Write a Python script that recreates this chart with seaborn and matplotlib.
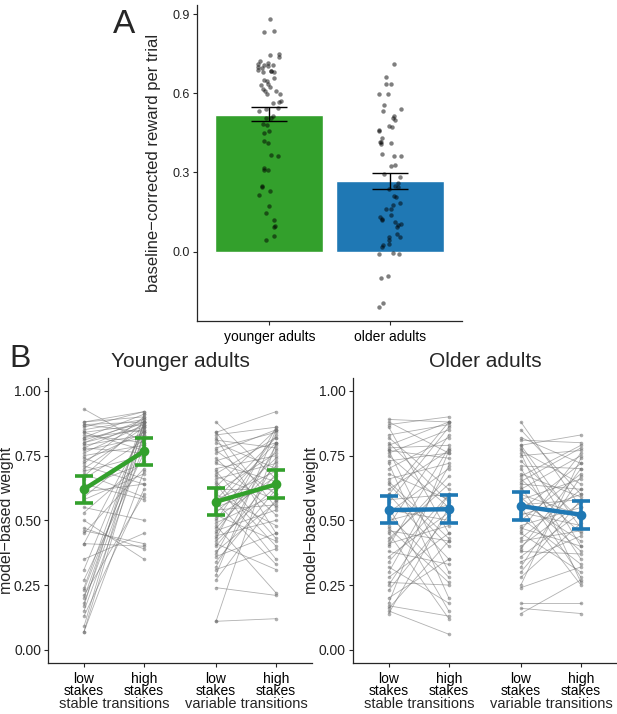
import numpy as np
import pandas as pd
import matplotlib
matplotlib.use("Agg")
import matplotlib.pyplot as plt
import seaborn as sns
from matplotlib.transforms import blended_transform_factory

# ---------------- data ----------------
groups = ["younger adults", "older adults"]
bar_means = [0.520, 0.267]
bar_lo = [0.495, 0.239]
bar_hi = [0.549, 0.297]

younger_reward = [0.881, 0.837, 0.833, 0.747, 0.749, 0.738, 0.724, 0.696, 0.701, 0.705,
                  0.711, 0.715, 0.709, 0.706, 0.681, 0.684, 0.690, 0.686, 0.681, 0.649,
                  0.652, 0.659, 0.634, 0.631, 0.624, 0.608, 0.611, 0.615, 0.596, 0.598,
                  0.571, 0.564, 0.568, 0.546, 0.539, 0.533, 0.514, 0.508, 0.508, 0.485,
                  0.480, 0.458, 0.451, 0.420, 0.410, 0.363, 0.367, 0.309, 0.317, 0.310,
                  0.248, 0.246, 0.228, 0.216, 0.171, 0.148, 0.118, 0.096, 0.093, 0.059,
                  0.045]
older_reward = [0.711, 0.661, 0.637, 0.634, 0.596, 0.596, 0.556, 0.539, 0.535, 0.514,
                0.505, 0.498, 0.478, 0.473, 0.460, 0.458, 0.430, 0.414, 0.414, 0.407,
                0.410, 0.370, 0.363, 0.361, 0.323, 0.327, 0.294, 0.282, 0.259, 0.250,
                0.238, 0.244, 0.206, 0.212, 0.184, 0.175, 0.162, 0.160, 0.124, 0.118,
                0.112, 0.093, 0.106, 0.099, 0.137, 0.131, 0.055, 0.055, 0.065, 0.045,
                0.030, 0.024, 0.018, -0.010, -0.010, -0.005, -0.102, -0.093, -0.209, -0.194]

# Panel B: per-subject model-based weights (low stakes -> high stakes)
ys_low = [0.93, 0.88, 0.87, 0.87, 0.86, 0.85, 0.84, 0.83, 0.82, 0.82, 0.81, 0.80, 0.80, 0.79,
          0.78, 0.78, 0.77, 0.76, 0.75, 0.74, 0.73, 0.72, 0.71, 0.70, 0.69, 0.68, 0.67, 0.66,
          0.64, 0.63, 0.61, 0.59, 0.58, 0.55, 0.53, 0.50, 0.47, 0.46, 0.45, 0.41, 0.41, 0.35,
          0.31, 0.27, 0.24, 0.23, 0.21, 0.20, 0.18, 0.17, 0.15, 0.13, 0.09, 0.07, 0.07, 0.88, 0.84]
ys_high = [0.80, 0.90, 0.84, 0.88, 0.92, 0.89, 0.87, 0.80, 0.91, 0.85, 0.88, 0.86, 0.89, 0.83,
           0.76, 0.88, 0.82, 0.87, 0.79, 0.66, 0.84, 0.90, 0.64, 0.86, 0.75, 0.59, 0.88, 0.81,
           0.58, 0.72, 0.64, 0.78, 0.68, 0.50, 0.73, 0.35, 0.39, 0.41, 0.70, 0.40, 0.85, 0.45,
           0.87, 0.76, 0.88, 0.83, 0.60, 0.86, 0.82, 0.91, 0.79, 0.62, 0.88, 0.84, 0.69, 0.92, 0.77]
yv_low = [0.88, 0.84, 0.84, 0.83, 0.82, 0.81, 0.80, 0.78, 0.77, 0.76, 0.74, 0.73, 0.72, 0.70,
          0.69, 0.68, 0.67, 0.66, 0.65, 0.63, 0.62, 0.61, 0.60, 0.58, 0.57, 0.56, 0.55, 0.54,
          0.53, 0.52, 0.51, 0.50, 0.49, 0.48, 0.47, 0.46, 0.45, 0.44, 0.43, 0.42, 0.41, 0.40,
          0.38, 0.37, 0.36, 0.34, 0.32, 0.31, 0.29, 0.27, 0.24, 0.11, 0.11, 0.58, 0.64]
yv_high = [0.66, 0.92, 0.55, 0.86, 0.45, 0.78, 0.70, 0.84, 0.60, 0.85, 0.52, 0.80, 0.65, 0.75,
           0.43, 0.82, 0.58, 0.72, 0.40, 0.85, 0.62, 0.76, 0.48, 0.69, 0.33, 0.80, 0.64, 0.56,
           0.74, 0.42, 0.67, 0.83, 0.60, 0.22, 0.71, 0.54, 0.77, 0.50, 0.86, 0.63, 0.31, 0.68,
           0.57, 0.79, 0.45, 0.62, 0.73, 0.39, 0.85, 0.58, 0.21, 0.12, 0.80, 0.82, 0.35]
os_low = [0.89, 0.88, 0.87, 0.86, 0.83, 0.82, 0.79, 0.78, 0.77, 0.77, 0.76, 0.75, 0.73, 0.72,
          0.70, 0.68, 0.66, 0.64, 0.62, 0.60, 0.58, 0.57, 0.55, 0.54, 0.53, 0.52, 0.50, 0.48,
          0.46, 0.45, 0.43, 0.41, 0.40, 0.38, 0.36, 0.34, 0.32, 0.30, 0.28, 0.26, 0.25, 0.23,
          0.20, 0.18, 0.17, 0.16, 0.15, 0.14, 0.80, 0.60, 0.47, 0.65, 0.42]
os_high = [0.88, 0.76, 0.90, 0.45, 0.87, 0.62, 0.88, 0.79, 0.30, 0.74, 0.85, 0.55, 0.76, 0.20,
           0.82, 0.58, 0.72, 0.40, 0.77, 0.35, 0.60, 0.86, 0.15, 0.50, 0.70, 0.28, 0.56, 0.83,
           0.42, 0.12, 0.64, 0.48, 0.78, 0.33, 0.53, 0.60, 0.18, 0.71, 0.45, 0.25, 0.60, 0.52,
           0.35, 0.77, 0.13, 0.42, 0.06, 0.55, 0.57, 0.88, 0.26, 0.43, 0.67]
ov_low = [0.88, 0.82, 0.81, 0.79, 0.78, 0.77, 0.76, 0.75, 0.73, 0.71, 0.70, 0.68, 0.67, 0.66,
          0.64, 0.63, 0.62, 0.60, 0.59, 0.58, 0.57, 0.56, 0.55, 0.54, 0.53, 0.52, 0.51, 0.50,
          0.48, 0.47, 0.46, 0.45, 0.43, 0.42, 0.40, 0.39, 0.38, 0.36, 0.34, 0.32, 0.30, 0.28,
          0.25, 0.24, 0.18, 0.16, 0.14, 0.85, 0.79, 0.65]
ov_high = [0.55, 0.72, 0.80, 0.83, 0.40, 0.64, 0.26, 0.77, 0.50, 0.70, 0.35, 0.59, 0.79, 0.45,
           0.62, 0.28, 0.75, 0.52, 0.38, 0.66, 0.42, 0.58, 0.25, 0.72, 0.48, 0.60, 0.33, 0.68,
           0.55, 0.40, 0.76, 0.30, 0.62, 0.46, 0.57, 0.70, 0.37, 0.53, 0.44, 0.67, 0.58, 0.49,
           0.74, 0.32, 0.18, 0.14, 0.27, 0.60, 0.47, 0.78]

# group means and standard-error bounds: [low stable, high stable, low variable, high variable]
young_mean = [0.620, 0.767, 0.572, 0.639]
young_lo = [0.567, 0.713, 0.519, 0.586]
young_hi = [0.671, 0.820, 0.626, 0.693]
older_mean = [0.540, 0.543, 0.555, 0.522]
older_lo = [0.490, 0.490, 0.503, 0.468]
older_hi = [0.594, 0.597, 0.610, 0.575]

cond_ticklabels = ["low\nstakes", "high\nstakes", "low\nstakes", "high\nstakes"]
block_labels = ["stable transitions", "variable transitions"]
panel_titles = ["Younger adults", "Older adults"]

# ---------------- style ----------------
GREEN = "#33a02c"
BLUE = "#1f78b4"
sns.set_style("ticks")
plt.rcParams["font.family"] = ["Liberation Sans", "DejaVu Sans"]
plt.rcParams["axes.linewidth"] = 0.9
plt.rcParams["xtick.major.size"] = 3
plt.rcParams["ytick.major.size"] = 3
plt.rcParams["xtick.major.width"] = 0.8
plt.rcParams["ytick.major.width"] = 0.8
plt.rcParams["ytick.major.pad"] = 2.0

fig = plt.figure(figsize=(6.17, 7.14), dpi=100)
W, H = 617.0, 714.0


def add_axes(x0, x1, y0, y1):
    return fig.add_axes([x0 / W, 1 - y1 / H, (x1 - x0) / W, (y1 - y0) / H])


# ---------------- Panel A ----------------
axA = add_axes(197, 462, 5, 321)
sns.barplot(x=groups, y=bar_means, hue=groups, palette=[GREEN, BLUE], width=0.9,
            legend=False, errorbar=None, saturation=1, ax=axA)
axA.errorbar(x=[0, 1], y=bar_means,
             yerr=[np.subtract(bar_means, bar_lo), np.subtract(bar_hi, bar_means)],
             fmt="none", ecolor="black", elinewidth=1.0, capsize=13, capthick=1.0, zorder=4)
dfA = pd.DataFrame({
    "group": [groups[0]] * len(younger_reward) + [groups[1]] * len(older_reward),
    "reward": younger_reward + older_reward,
})
np.random.seed(3)
sns.stripplot(data=dfA, x="group", y="reward", order=groups, jitter=0.1, color="black",
              alpha=0.5, size=3.2, linewidth=0, ax=axA, zorder=5)
axA.set_xlim(-0.6, 1.6)
axA.set_ylim(-0.2635, 0.9355)
axA.set_yticks([0.0, 0.3, 0.6, 0.9])
axA.set_yticklabels(["0.0", "0.3", "0.6", "0.9"])
axA.tick_params(axis="y", labelsize=9, labelcolor="#222222")
axA.tick_params(axis="x", labelsize=10, labelcolor="black")
axA.set_xlabel("")
axA.set_ylabel("baseline\u2212corrected reward per trial", fontsize=12)
axA.yaxis.set_label_coords(-0.135, 0.5)
sns.despine(ax=axA)
fig.text(113 / W, 1 - 33 / H, "A", fontsize=24, ha="left", va="baseline")
fig.text(9 / W, 1 - 367 / H, "B", fontsize=23, ha="left", va="baseline")

# ---------------- Panel B ----------------
xpos = [0.0, 1.0, 2.2, 3.2]


def long_df(low_s, high_s, low_v, high_v):
    rows = []
    for i, (a, b) in enumerate(zip(low_s, high_s)):
        rows.append((f"s{i}", xpos[0], a))
        rows.append((f"s{i}", xpos[1], b))
    for i, (a, b) in enumerate(zip(low_v, high_v)):
        rows.append((f"v{i}", xpos[2], a))
        rows.append((f"v{i}", xpos[3], b))
    return pd.DataFrame(rows, columns=["unit", "x", "w"])


panels = [
    (48, 312, long_df(ys_low, ys_high, yv_low, yv_high), young_mean, young_lo, young_hi, GREEN),
    (352.7, 617, long_df(os_low, os_high, ov_low, ov_high), older_mean, older_lo, older_hi, BLUE),
]

for k, (x0, x1, df, m, lo, hi, col) in enumerate(panels):
    ax = add_axes(x0, x1, 378, 662.7)
    sns.lineplot(data=df, x="x", y="w", units="unit", estimator=None, color="#707070",
                 lw=0.6, alpha=0.55, marker="o", markersize=2.6, markeredgewidth=0,
                 ax=ax, legend=False)
    mdf = pd.DataFrame({"x": xpos, "m": m, "seg": ["s", "s", "v", "v"]})
    sns.lineplot(data=mdf, x="x", y="m", units="seg", estimator=None, color=col, lw=3.2,
                 marker="o", markersize=7, markeredgewidth=0, ax=ax, legend=False, zorder=6)
    ax.errorbar(xpos, m, yerr=[np.subtract(m, lo), np.subtract(hi, m)], fmt="none",
                ecolor=col, elinewidth=2.6, capsize=6.5, capthick=2.6, zorder=6)
    ax.set_xlim(-0.6, 3.8)
    ax.set_ylim(-0.05, 1.05)
    ax.set_yticks([0.0, 0.25, 0.5, 0.75, 1.0])
    ax.set_yticklabels(["0.00", "0.25", "0.50", "0.75", "1.00"])
    ax.set_xticks(xpos)
    ax.set_xticklabels(cond_ticklabels, linespacing=0.85)
    ax.tick_params(axis="y", labelsize=10, labelcolor="#222222")
    ax.tick_params(axis="x", labelsize=10, labelcolor="black")
    ax.set_xlabel("")
    ax.set_ylabel("model\u2212based weight", fontsize=11.5)
    ax.yaxis.set_label_coords(-0.128, 0.5)
    ax.set_title(panel_titles[k], fontsize=15, pad=8)
    trans = blended_transform_factory(ax.transData, ax.transAxes)
    ax.text((xpos[0] + xpos[1]) / 2, -0.145, block_labels[0], transform=trans,
            ha="center", va="center", fontsize=10.5)
    ax.text((xpos[2] + xpos[3]) / 2, -0.145, block_labels[1], transform=trans,
            ha="center", va="center", fontsize=10.5)
    sns.despine(ax=ax)

fig.savefig("out.png", dpi=100)
